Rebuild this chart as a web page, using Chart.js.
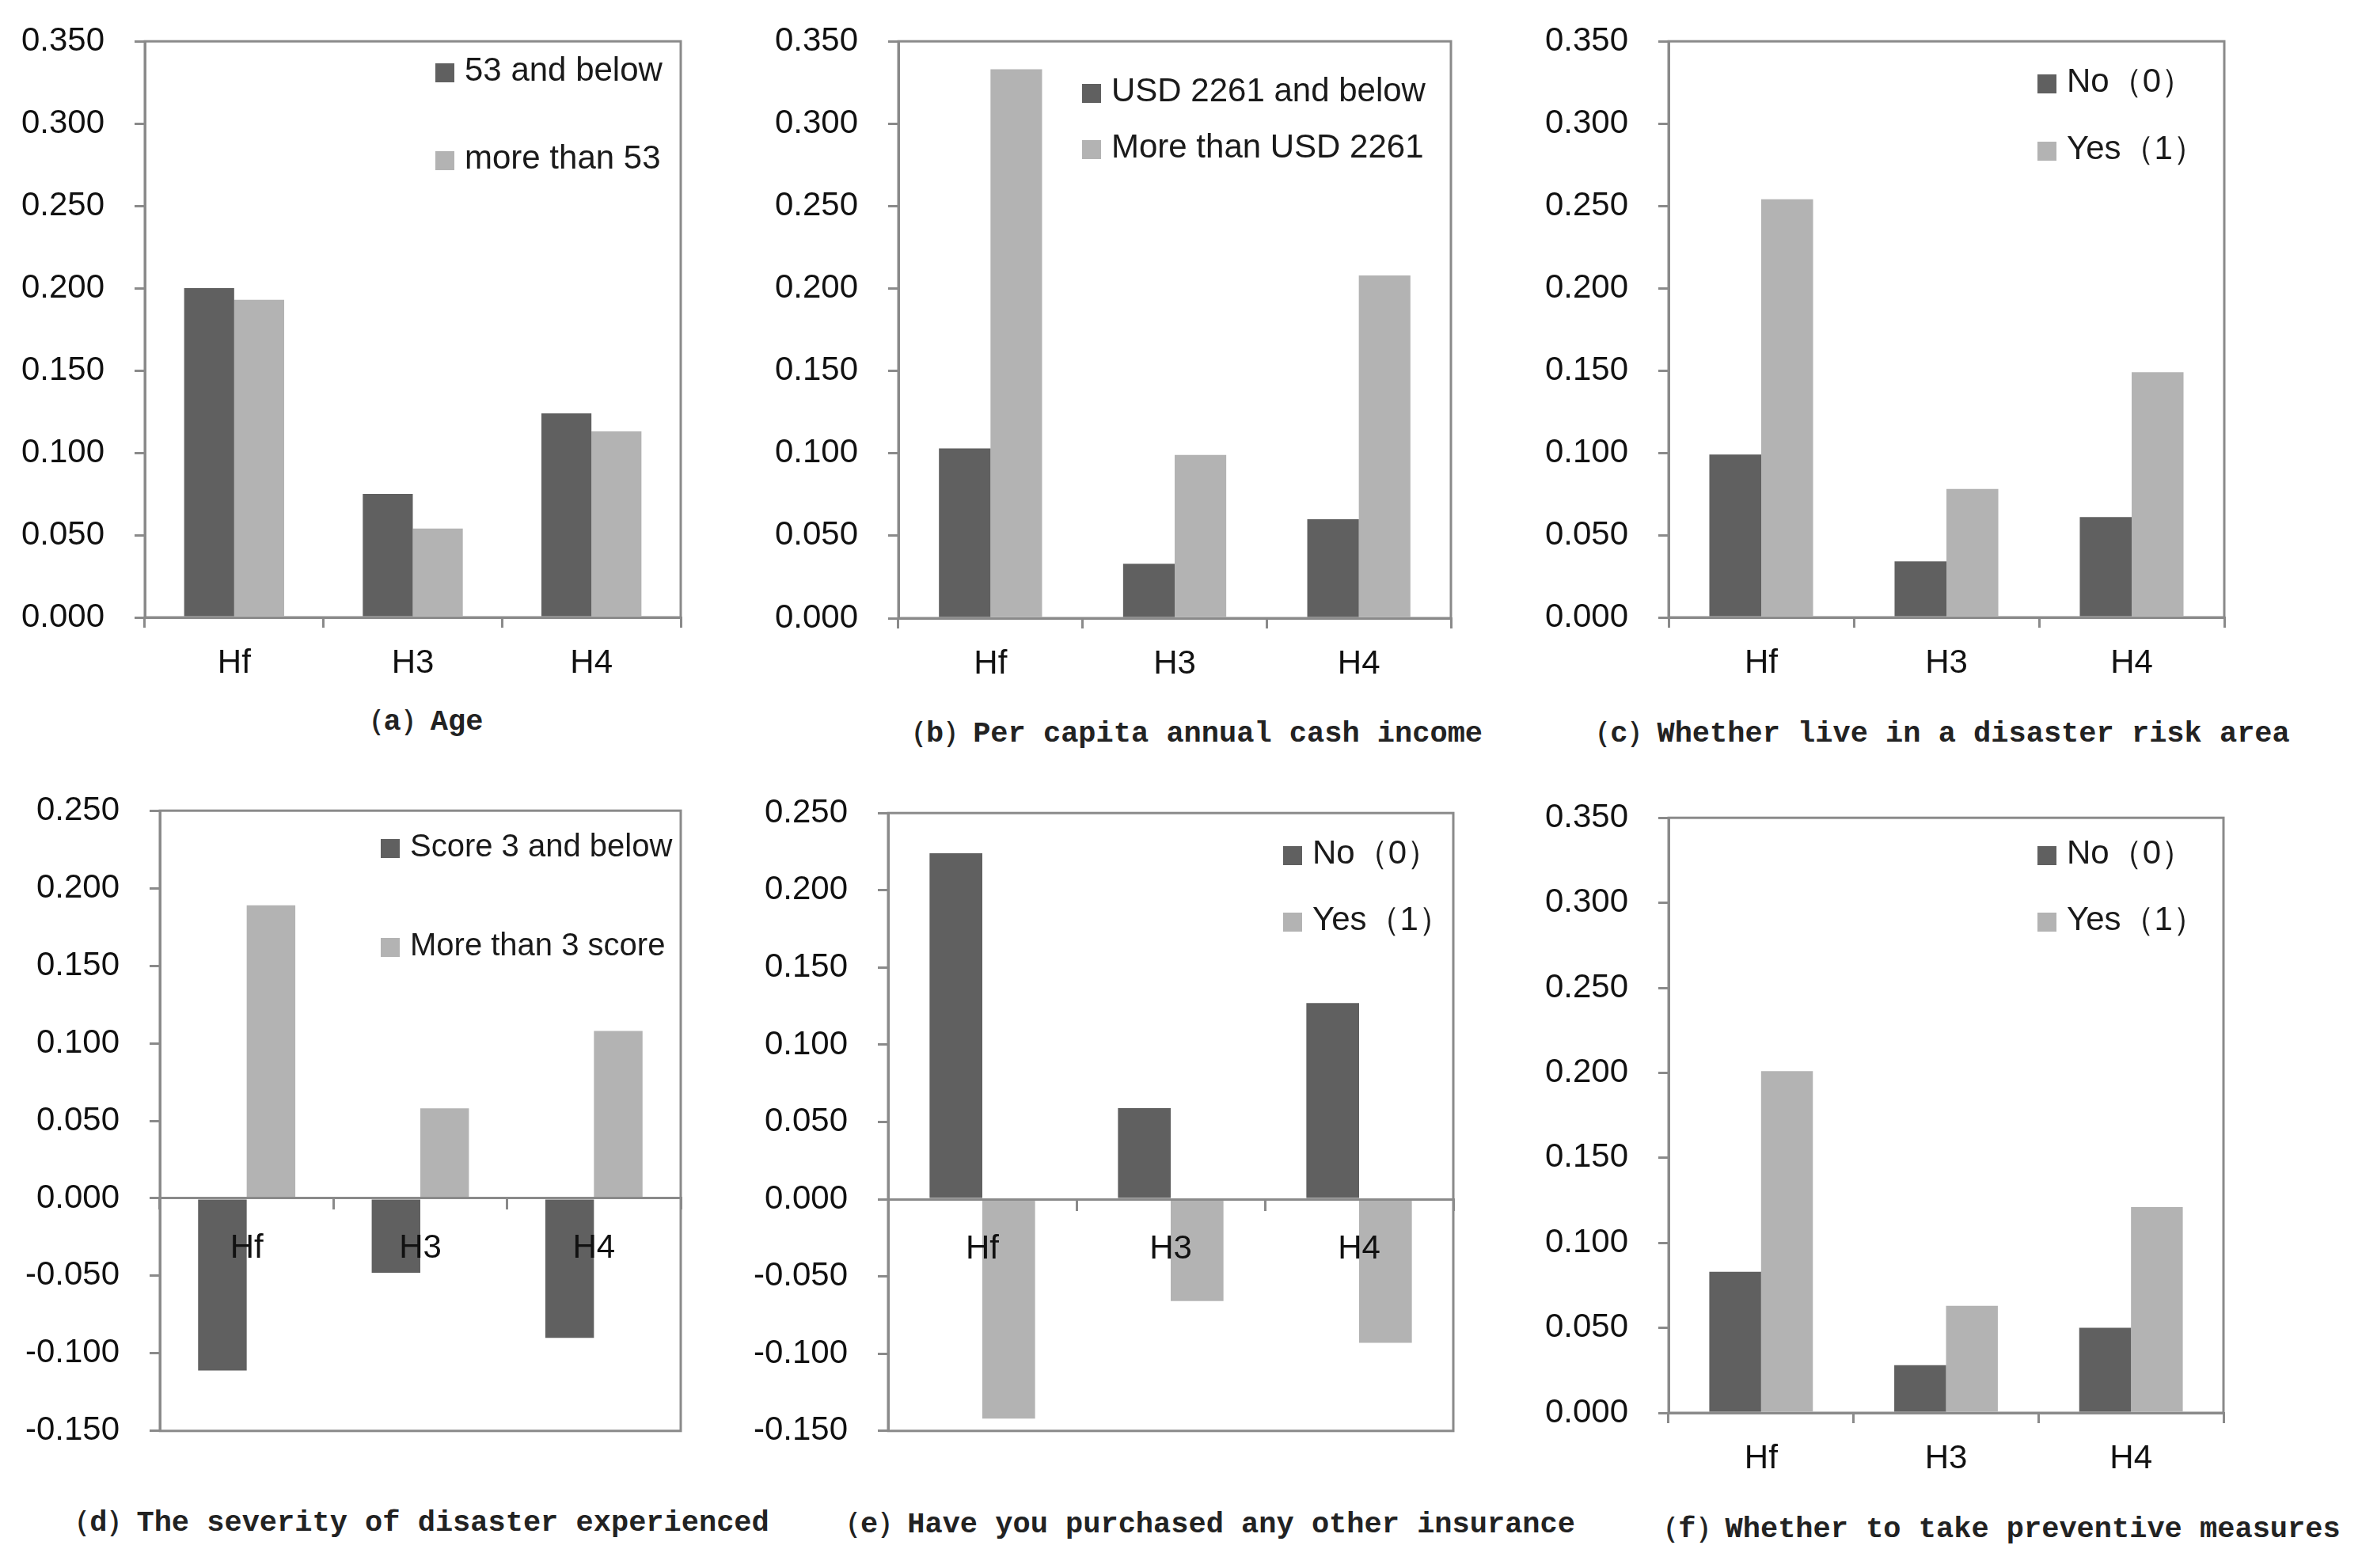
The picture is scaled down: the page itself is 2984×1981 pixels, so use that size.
<!DOCTYPE html>
<html>
<head>
<meta charset="utf-8">
<script src="https://cdn.jsdelivr.net/npm/chart.js@4.4.0/dist/chart.umd.min.js"></script>
<style>
  body { margin: 0; background: #fff; width: 2984px; height: 1981px; position: relative; overflow: hidden; }
  canvas, .leg, .cap { position: absolute; }
  .leg { font-family: "Liberation Sans", Arial, sans-serif; font-size: 42px; color: #1a1a1a; white-space: nowrap; line-height: 48px; }
  .leg i { display: inline-block; width: 24px; height: 24px; margin-right: 13px; vertical-align: -2px; }
  .cap { font-family: "Liberation Mono", "DejaVu Sans Mono", monospace; font-weight: bold; font-size: 37px; color: #222; white-space: nowrap; transform: translateX(-50%); line-height: 44px; }
</style>
</head>
<body>
<script>
// categories and values
const categories = ['Hf', 'H3', 'H4'];

const ageNames = ['53 and below', 'more than 53'];
const ageLow = [0.200, 0.075, 0.124];
const ageHigh = [0.193, 0.054, 0.113];

const incomeNames = ['USD 2261 and below', 'More than USD 2261'];
const incomeLow = [0.103, 0.033, 0.060];
const incomeHigh = [0.333, 0.099, 0.208];

const riskNames = ['No（0）', 'Yes（1）'];
const riskNo = [0.099, 0.034, 0.061];
const riskYes = [0.254, 0.078, 0.149];

const severityNames = ['Score 3 and below', 'More than 3 score'];
const severityLow = [-0.111, -0.048, -0.090];
const severityHigh = [0.189, 0.058, 0.108];

const insuranceNames = ['No（0）', 'Yes（1）'];
const insuranceNo = [0.224, 0.059, 0.127];
const insuranceYes = [-0.142, -0.066, -0.093];

const preventNames = ['No（0）', 'Yes（1）'];
const preventNo = [0.083, 0.028, 0.050];
const preventYes = [0.201, 0.063, 0.121];

const captions = [
  '（a）Age',
  '（b）Per capita annual cash income',
  '（c）Whether live in a disaster risk area',
  '（d）The severity of disaster experienced',
  '（e）Have you purchased any other insurance',
  '（f）Whether to take preventive measures'
];

const dark = '#606060';
const light = '#b3b3b3';
const axisGrey = '#8a8a8a';

// plot area boxes in page pixels, legend and caption spots
const panels = [
  { names: ageNames, series: [ageLow, ageHigh], min: 0, max: 0.35,
    L: 183, T: 52, R: 860, B: 780, legX: 550, legY: [88, 199], capX: 529, capY: 912 },
  { names: incomeNames, series: [incomeLow, incomeHigh], min: 0, max: 0.35,
    L: 1135, T: 52, R: 1833, B: 781, legX: 1367, legY: [114, 185], capX: 1503, capY: 927 },
  { names: riskNames, series: [riskNo, riskYes], min: 0, max: 0.35,
    L: 2108, T: 52, R: 2810, B: 780, legX: 2574, legY: [102, 187], capX: 2445, capY: 927 },
  { names: severityNames, series: [severityLow, severityHigh], min: -0.15, max: 0.25, zeroAxis: true,
    L: 202, T: 1024, R: 860, B: 1808, legX: 481, legY: [1068, 1193], capX: 524, capY: 1924 },
  { names: insuranceNames, series: [insuranceNo, insuranceYes], min: -0.15, max: 0.25, zeroAxis: true,
    L: 1122, T: 1027, R: 1836, B: 1808, legX: 1621, legY: [1077, 1161], capX: 1520, capY: 1926 },
  { names: preventNames, series: [preventNo, preventYes], min: 0, max: 0.35,
    L: 2108, T: 1033, R: 2809, B: 1785, legX: 2574, legY: [1077, 1161], capX: 2520, capY: 1932 }
];

const plotBox = {
  id: 'plotBox',
  beforeDatasetsDraw(chart) {
    const { ctx, chartArea: a } = chart;
    ctx.save();
    ctx.strokeStyle = axisGrey;
    ctx.lineWidth = 3;
    ctx.strokeRect(a.left, a.top, a.right - a.left, a.bottom - a.top);
    ctx.restore();
  }
};

// y axis reserves half a label line plus its tick padding above and below the plot
const yw = 180, edge = 63, padRight = 12;
const tickFont = { family: '"Liberation Sans", Arial, sans-serif', size: 42 };

panels.forEach(function (p, i) {
  const xh = p.zeroAxis ? edge : 100;
  const canvas = document.createElement('canvas');
  canvas.width = p.R - p.L + yw + padRight;
  canvas.height = p.B - p.T + edge + xh;
  canvas.style.left = (p.L - yw) + 'px';
  canvas.style.top = (p.T - edge) + 'px';
  document.body.appendChild(canvas);

  new Chart(canvas, {
    type: 'bar',
    data: {
      labels: categories,
      datasets: [
        { label: p.names[0], data: p.series[0], backgroundColor: dark },
        { label: p.names[1], data: p.series[1], backgroundColor: light }
      ]
    },
    options: {
      responsive: false,
      animation: false,
      devicePixelRatio: 1,
      layout: { padding: { top: 0, right: padRight, bottom: 0, left: 0 } },
      datasets: { bar: { categoryPercentage: 0.56, barPercentage: 1.0, borderWidth: 0 } },
      plugins: { legend: { display: false }, tooltip: { enabled: false } },
      scales: {
        x: {
          position: p.zeroAxis ? { y: 0 } : 'bottom',
          grid: { offset: true, drawOnChartArea: false, drawTicks: true, tickLength: 13, color: axisGrey, lineWidth: 3 },
          border: { color: axisGrey, width: 3, z: p.zeroAxis ? 1 : 0 },
          ticks: { color: '#111', font: tickFont, padding: p.zeroAxis ? 25 : 20, z: p.zeroAxis ? 1 : 0 },
          afterFit: function (s) { if (!p.zeroAxis) s.height = xh; }
        },
        y: {
          min: p.min,
          max: p.max,
          grid: { drawOnChartArea: false, drawTicks: true, tickLength: 13, color: axisGrey, lineWidth: 3 },
          border: { color: axisGrey, width: 3 },
          ticks: {
            stepSize: 0.05,
            color: '#111',
            font: tickFont,
            padding: 38,
            callback: function (v) { return v.toFixed(3); }
          },
          afterFit: function (s) { s.width = yw; }
        }
      }
    },
    plugins: [plotBox]
  });

  p.names.forEach(function (name, k) {
    const d = document.createElement('div');
    d.className = 'leg';
    d.style.left = p.legX + 'px';
    d.style.top = (p.legY[k] - 24) + 'px';
    if (i === 3) d.style.fontSize = '40px';
    d.innerHTML = '<i style="background:' + (k === 0 ? dark : light) + '"></i>' + name;
    document.body.appendChild(d);
  });

  const c = document.createElement('div');
  c.className = 'cap';
  c.style.left = p.capX + 'px';
  c.style.top = (p.capY - 22) + 'px';
  c.textContent = captions[i];
  document.body.appendChild(c);
});
</script>
</body>
</html>
